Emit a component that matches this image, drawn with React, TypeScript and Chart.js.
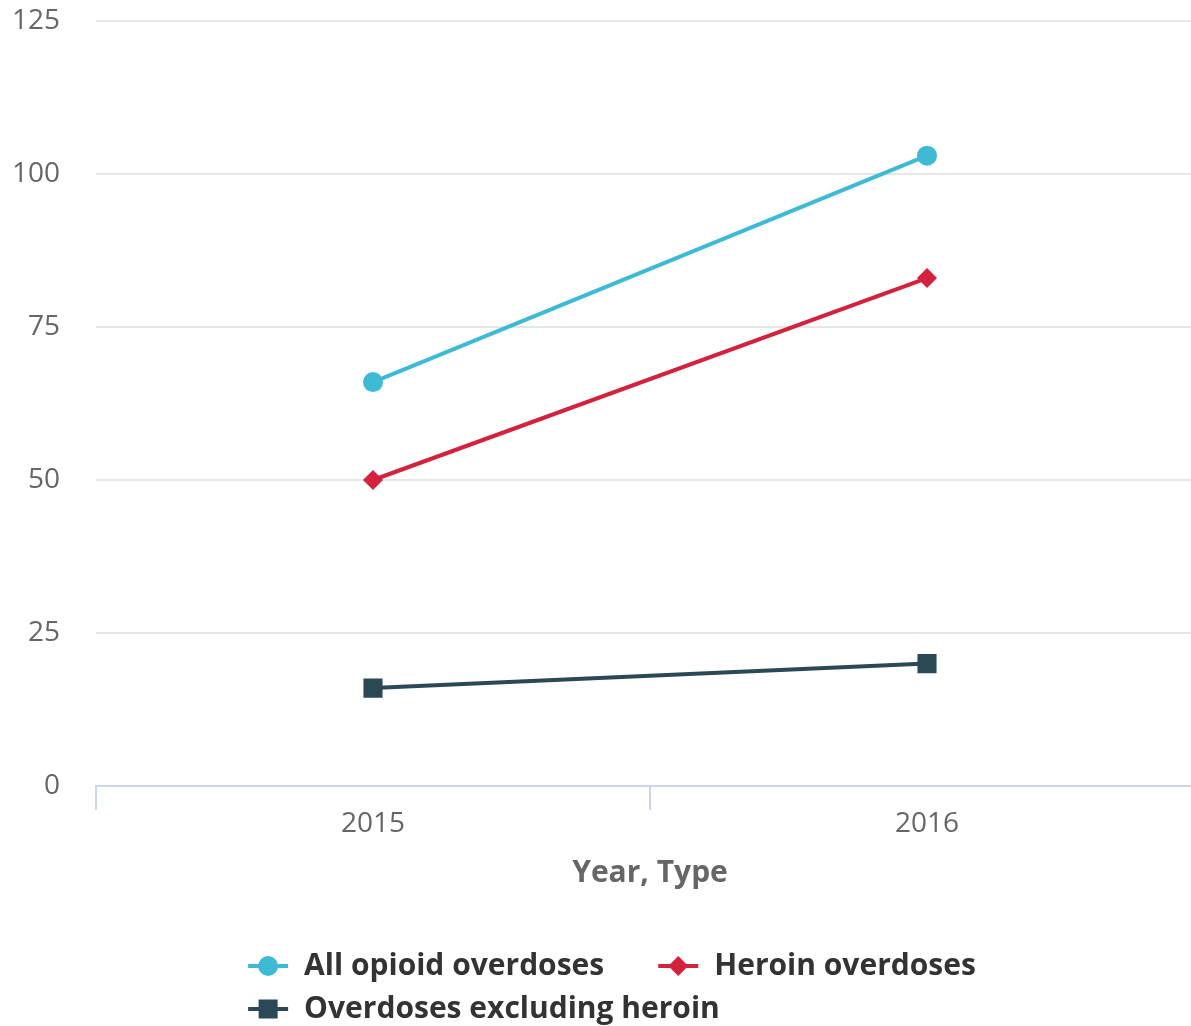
import React, { useEffect, useRef } from "react";
import { Chart, registerables } from "chart.js";

Chart.register(...registerables);

const categories = ["2015", "2016"];
const allOpioid = [66, 103];
const heroin = [50, 83];
const excludingHeroin = [16, 20];
const seriesNames = ["All opioid overdoses", "Heroin overdoses", "Overdoses excluding heroin"];
const seriesColors = ["#3fbad5", "#d4213d", "#2a4855"];
const seriesMarkers = ["circle", "rectRot", "rect"];
const yTicks = [0, 25, 50, 75, 100, 125];
const xTitle = "Year, Type";

const FONT = "'Open Sans', 'Noto Sans', sans-serif";

function drawMarker(ctx: CanvasRenderingContext2D, style: string, x: number, y: number, color: string) {
  ctx.fillStyle = color;
  ctx.beginPath();
  if (style === "circle") {
    ctx.arc(x, y, 10, 0, Math.PI * 2);
  } else if (style === "rectRot") {
    ctx.moveTo(x - 10, y);
    ctx.lineTo(x, y - 10);
    ctx.lineTo(x + 10, y);
    ctx.lineTo(x, y + 10);
    ctx.closePath();
  } else {
    ctx.rect(x - 9.5, y - 9.5, 19, 19);
  }
  ctx.fill();
}

const legendPlugin = {
  id: "hcLegend",
  afterDraw(chart: any) {
    const ctx: CanvasRenderingContext2D = chart.ctx;
    ctx.save();
    ctx.font = `bold 30px ${FONT}`;
    ctx.textBaseline = "middle";
    ctx.textAlign = "left";
    const symW = 40;
    const textGap = 16;
    const itemGap = 54;
    const maxRowW = 900;
    const items = chart.data.datasets.map((ds: any, i: number) => ({
      label: ds.label,
      color: seriesColors[i],
      marker: seriesMarkers[i],
      w: symW + textGap + ctx.measureText(ds.label).width,
    }));
    const rows: any[][] = [[]];
    let cur = 0;
    items.forEach((it: any) => {
      const add = (rows[rows.length - 1].length ? itemGap : 0) + it.w;
      if (cur + add > maxRowW && rows[rows.length - 1].length) {
        rows.push([it]);
        cur = it.w;
      } else {
        rows[rows.length - 1].push(it);
        cur += add;
      }
    });
    const rowWidth = (r: any[]) => r.reduce((s, it, k) => s + it.w + (k ? itemGap : 0), 0);
    const startX = chart.width / 2 - rowWidth(rows[0]) / 2;
    const firstY = chart.chartArea.bottom + 180;
    const rowH = 43;
    rows.forEach((r, ri) => {
      let x = startX;
      const y = firstY + ri * rowH;
      r.forEach((it: any) => {
        ctx.strokeStyle = it.color;
        ctx.lineWidth = 4;
        ctx.beginPath();
        ctx.moveTo(x, y);
        ctx.lineTo(x + symW, y);
        ctx.stroke();
        drawMarker(ctx, it.marker, x + symW / 2, y, it.color);
        ctx.fillStyle = "#333333";
        ctx.fillText(it.label, x + symW + textGap, y);
        x += it.w + itemGap;
      });
    });
    ctx.restore();
  },
};

export default function App() {
  const ref = useRef<HTMLCanvasElement | null>(null);
  useEffect(() => {
    if (!ref.current) return;
    const values = [allOpioid, heroin, excludingHeroin];
    const chart = new Chart(ref.current, {
      type: "line",
      data: {
        labels: categories,
        datasets: values.map((v, i) => ({
          label: seriesNames[i],
          data: v,
          borderColor: seriesColors[i],
          backgroundColor: seriesColors[i],
          pointBackgroundColor: seriesColors[i],
          pointBorderWidth: 0,
          pointStyle: seriesMarkers[i] as any,
          pointRadius: seriesMarkers[i] === "rect" ? 13.5 : 10,
          borderWidth: 4,
          tension: 0,
          fill: false,
        })),
      },
      options: {
        responsive: false,
        animation: false,
        devicePixelRatio: 1,
        layout: { padding: { top: 21, right: 20, bottom: 126, left: 0 } },
        plugins: { legend: { display: false }, tooltip: { enabled: false } },
        scales: {
          x: {
            type: "category",
            offset: true,
            afterFit: (s: any) => {
              s.height = 114;
            },
            grid: {
              offset: true,
              drawOnChartArea: false,
              drawTicks: true,
              tickLength: 24,
              color: "#ccd6eb",
              lineWidth: 2,
            },
            border: { color: "#ccd6eb", width: 2 },
            ticks: {
              color: "#666666",
              font: { family: FONT, size: 28, lineHeight: 1 },
              padding: 0,
            },
            title: {
              display: true,
              text: xTitle,
              color: "#666666",
              font: { family: FONT, size: 30, weight: "bold" },
              padding: { top: 0, bottom: 9 },
            },
          },
          y: {
            min: yTicks[0],
            max: yTicks[yTicks.length - 1],
            afterFit: (s: any) => {
              s.width = 96;
              s.paddingTop = 0;
              s.paddingBottom = 0;
            },
            afterBuildTicks: (s: any) => {
              s.ticks = yTicks.map((v) => ({ value: v }));
            },
            grid: { color: "#e6e6e6", lineWidth: 2, drawTicks: false },
            border: { display: false },
            ticks: {
              color: "#666666",
              font: { family: FONT, size: 28 },
              padding: 36,
            },
          },
        },
      },
      plugins: [legendPlugin],
    });
    return () => chart.destroy();
  }, []);
  return (
    <div style={{ position: "fixed", left: 0, top: 0, width: 1191, height: 1026, overflow: "hidden", background: "#fff" }}>
      <canvas ref={ref} width={1224} height={1026} style={{ width: 1224, height: 1026, display: "block" }} />
    </div>
  );
}
